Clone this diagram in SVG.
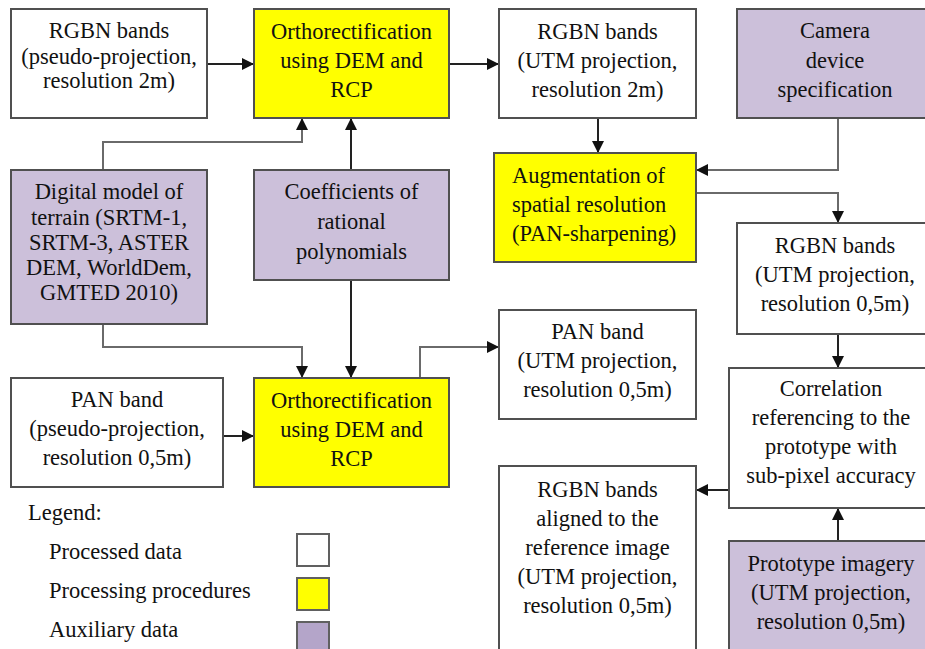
<svg xmlns="http://www.w3.org/2000/svg" width="925" height="649" viewBox="0 0 925 649">
<style>
text{font-family:"Liberation Serif","Times New Roman",serif;font-size:22.5px;fill:#111;text-anchor:middle}
.l{text-anchor:start}
.data{fill:#ffffff;stroke:#505050;stroke-width:2}
.proc{fill:#ffff00;stroke:#505050;stroke-width:2}
.aux{fill:#ccc0da;stroke:#505050;stroke-width:2}
.c{fill:none;stroke:#222;stroke-width:2}
.g{fill:none;stroke:#6a6a6a;stroke-width:2}
</style>
<defs>
<marker id="ah" viewBox="0 0 12 12" refX="12" refY="6" markerWidth="12" markerHeight="12" markerUnits="userSpaceOnUse" orient="auto">
<path d="M0,0 L12,6 L0,12 z" fill="#111"/>
</marker>
</defs>
<rect width="925" height="649" fill="#ffffff"/>

<g id="connectors">
<path class="c" d="M207,64 H254" marker-end="url(#ah)"/>
<path class="c" d="M449,64 H499" marker-end="url(#ah)"/>
<path class="g" d="M103,170 V142 H302 V118" marker-end="url(#ah)"/>
<path class="c" d="M351,170 V118" marker-end="url(#ah)"/>
<path class="c" d="M598,118 V153" marker-end="url(#ah)"/>
<path class="g" d="M838,118 V170 H696" marker-end="url(#ah)"/>
<path class="g" d="M696,193 H838 V223" marker-end="url(#ah)"/>
<path class="c" d="M838,334 V368" marker-end="url(#ah)"/>
<path class="c" d="M838,541 V508" marker-end="url(#ah)"/>
<path class="c" d="M729,490 H696" marker-end="url(#ah)"/>
<path class="g" d="M103,324 V347 H302 V378" marker-end="url(#ah)"/>
<path class="c" d="M351,280 V378" marker-end="url(#ah)"/>
<path class="c" d="M223,436 H254" marker-end="url(#ah)"/>
<path class="g" d="M420,378 V347 H499" marker-end="url(#ah)"/>
</g>

<g id="rgbn-pseudo">
<rect class="data" x="11" y="9" width="196" height="109"/>
<text x="109" y="38">RGBN bands</text>
<text x="109" y="64">(pseudo-projection,</text>
<text x="109" y="88">resolution 2m)</text>
</g>

<g id="ortho-top">
<rect class="proc" x="254" y="9" width="195" height="109"/>
<text x="351.5" y="39">Orthorectification</text>
<text x="351.5" y="68">using DEM and</text>
<text x="351.5" y="97">RCP</text>
</g>

<g id="rgbn-utm-2m">
<rect class="data" x="499" y="9" width="197" height="109"/>
<text x="597.5" y="39">RGBN bands</text>
<text x="597.5" y="68">(UTM projection,</text>
<text x="597.5" y="97">resolution 2m)</text>
</g>

<g id="camera">
<rect class="aux" x="737" y="9" width="196" height="109"/>
<text x="835" y="38">Camera</text>
<text x="835" y="68">device</text>
<text x="835" y="97">specification</text>
</g>

<g id="dem">
<rect class="aux" x="11" y="170" width="196" height="154"/>
<text x="109" y="199">Digital model of</text>
<text x="109" y="225">terrain (SRTM-1,</text>
<text x="109" y="250">SRTM-3, ASTER</text>
<text x="109" y="275">DEM, WorldDem,</text>
<text x="109" y="300">GMTED 2010)</text>
</g>

<g id="coefficients">
<rect class="aux" x="254" y="170" width="195" height="110"/>
<text x="351.5" y="199">Coefficients of</text>
<text x="351.5" y="229">rational</text>
<text x="351.5" y="259">polynomials</text>
</g>

<g id="augmentation">
<rect class="proc" x="494" y="153" width="202" height="109"/>
<text class="l" x="512" y="183">Augmentation of</text>
<text class="l" x="512" y="212">spatial resolution</text>
<text class="l" x="512" y="241">(PAN-sharpening)</text>
</g>

<g id="rgbn-utm-05">
<rect class="data" x="737" y="223" width="196" height="111"/>
<text x="835" y="253">RGBN bands</text>
<text x="835" y="282">(UTM projection,</text>
<text x="835" y="311">resolution 0,5m)</text>
</g>

<g id="pan-utm">
<rect class="data" x="499" y="310" width="197" height="109"/>
<text x="597.5" y="339">PAN band</text>
<text x="597.5" y="368">(UTM projection,</text>
<text x="597.5" y="397">resolution 0,5m)</text>
</g>

<g id="pan-pseudo">
<rect class="data" x="11" y="378" width="212" height="109"/>
<text x="117" y="407">PAN band</text>
<text x="117" y="436">(pseudo-projection,</text>
<text x="117" y="465">resolution 0,5m)</text>
</g>

<g id="ortho-bottom">
<rect class="proc" x="254" y="378" width="195" height="109"/>
<text x="351.5" y="408">Orthorectification</text>
<text x="351.5" y="437">using DEM and</text>
<text x="351.5" y="466">RCP</text>
</g>

<g id="correlation">
<rect class="data" x="729" y="368" width="204" height="140"/>
<text x="831" y="396">Correlation</text>
<text x="831" y="425">referencing to the</text>
<text x="831" y="454">prototype with</text>
<text x="831" y="483">sub-pixel accuracy</text>
</g>

<g id="rgbn-aligned">
<rect class="data" x="499" y="466" width="197" height="200"/>
<text x="597.5" y="497">RGBN bands</text>
<text x="597.5" y="526">aligned to the</text>
<text x="597.5" y="555">reference image</text>
<text x="597.5" y="584">(UTM projection,</text>
<text x="597.5" y="613">resolution 0,5m)</text>
</g>

<g id="prototype">
<rect class="aux" x="729" y="541" width="204" height="130"/>
<text x="831" y="571">Prototype imagery</text>
<text x="831" y="600">(UTM projection,</text>
<text x="831" y="629">resolution 0,5m)</text>
</g>

<g id="legend">
<text class="l" x="28" y="520">Legend:</text>
<text class="l" x="49" y="559">Processed data</text>
<text class="l" x="49" y="598">Processing procedures</text>
<text class="l" x="49" y="637">Auxiliary data</text>
<rect x="297" y="534" width="32" height="32" fill="#ffffff" stroke="#606060" stroke-width="2"/>
<rect x="297" y="578" width="32" height="32" fill="#ffff00" stroke="#606060" stroke-width="2"/>
<rect x="297" y="622" width="32" height="32" fill="#b4a5c9" stroke="#606060" stroke-width="2"/>
</g>
</svg>
